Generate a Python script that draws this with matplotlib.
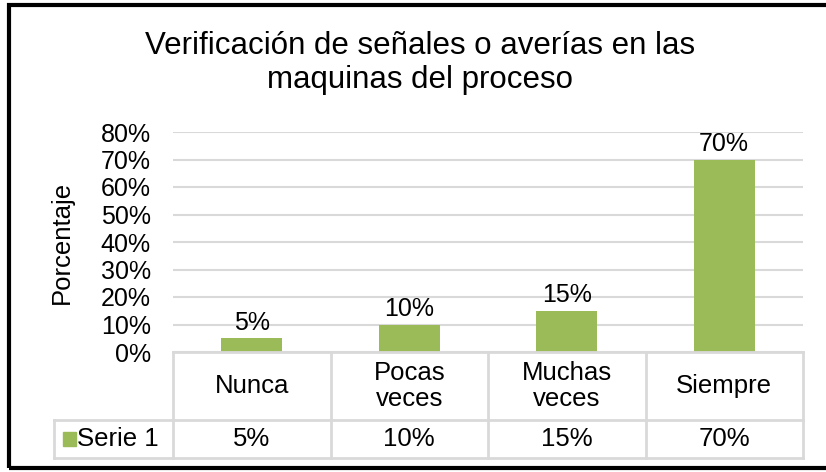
import numpy as np
import matplotlib
matplotlib.use("Agg")
from matplotlib import pyplot as plt
from matplotlib.patches import Rectangle

categorias = ["Nunca", "Pocas\nveces", "Muchas\nveces", "Siempre"]
valores = [0.05, 0.10, 0.15, 0.70]
etiquetas = ["5%", "10%", "15%", "70%"]
serie = "Serie 1"
titulo = "Verificación de señales o averías en las\nmaquinas del proceso"
yticks = [0, 0.1, 0.2, 0.3, 0.4, 0.5, 0.6, 0.7, 0.8]

plt.rcParams['font.family'] = ['Liberation Sans', 'DejaVu Sans']
verde = "#9BBB59"
gris = "#D9D9D9"
W, H = 826, 472

fig = plt.figure(figsize=(W/100, H/100), dpi=100)

# main plot area (pixel layout)
x0, x1, y0, y1 = 173, 803, 352, 132
ax = fig.add_axes([x0/W, 1-y0/H, (x1-x0)/W, (y0-y1)/H])
x = np.arange(len(categorias))
ax.bar(x, valores, width=0.39, color=verde, zorder=3)
for xi, v, t in zip(x, valores, etiquetas):
    ax.text(xi, v+0.012, t, ha="center", va="bottom", fontsize=18)
ax.set_xlim(-0.5, 3.5)
ax.set_ylim(0, 0.8)
ax.set_yticks(yticks)
ax.set_yticklabels(["%d%%" % round(v*100) for v in yticks], fontsize=18)
ax.set_xticks([])
ax.tick_params(axis="y", length=0, pad=16)
ax.grid(axis="y", color=gris, lw=1.5, zorder=0)
for s in ax.spines.values():
    s.set_visible(False)
ax.set_ylabel("Porcentaje", fontsize=18.5, labelpad=19)

fig.text(420/W, 1-63/H, titulo, ha="center", va="center", fontsize=22.5,
         linespacing=1.2)

# data table under the chart
tx0, ty0, ty1 = 54, 458, 352
tax = fig.add_axes([tx0/W, 1-ty0/H, (x1-tx0)/W, (ty0-ty1)/H])
cw = (x1-x0)/4
tax.set_xlim(-0.5-(x0-tx0)/cw, 3.5)
tax.set_ylim(0, ty0-ty1)
tax.axis("off")
fila = ty0-420
lk = dict(color=gris, lw=2, clip_on=False)
tax.plot([-0.5, 3.5], [ty0-ty1, ty0-ty1], **lk)
tax.plot([-0.5-(x0-tx0)/cw, 3.5], [fila, fila], **lk)
tax.plot([-0.5-(x0-tx0)/cw, 3.5], [0, 0], **lk)
tax.plot([-0.5-(x0-tx0)/cw]*2, [0, fila], **lk)
for b in np.arange(-0.5, 4.0, 1.0):
    tax.plot([b, b], [0, ty0-ty1], **lk)
for xi, c, t in zip(x, categorias, etiquetas):
    tax.text(xi, (fila+ty0-ty1)/2, c, ha="center", va="center", fontsize=18.5,
             linespacing=1.1)
    tax.text(xi, fila/2, t, ha="center", va="center", fontsize=18.5)
tax.add_patch(Rectangle((-0.5-(x0-63)/cw, ty0-446), 13/cw, 14, color=verde,
                        clip_on=False))
tax.text(-0.5-(x0-77)/cw, fila/2, serie, ha="left", va="center", fontsize=18.5)

# outer black border (right side runs past the image edge)
fig.patches.append(Rectangle((8.5/W, 4.5/H), (840-8.5)/W, (467-4.5)/H,
                             fill=False, ec="black", lw=3,
                             transform=fig.transFigure))

fig.savefig("out.png", dpi=100)
